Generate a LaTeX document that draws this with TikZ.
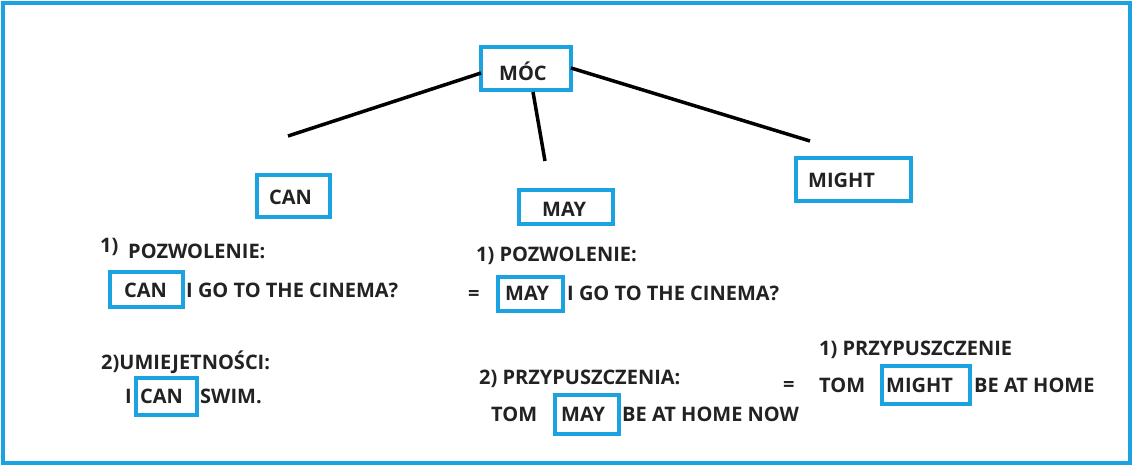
\documentclass[tikz,border=0pt]{standalone}
\usepackage{fontspec}
\setmainfont{Open Sans}[BoldFont={Open Sans Bold}]
\begin{document}
\begin{tikzpicture}[x=1pt,y=-1pt,
  bx/.style={draw=blu,line width=3.5pt},
  tx/.style={anchor=west,inner sep=0pt,font=\fontsize{20}{22}\selectfont\bfseries,text=txt},
  ln/.style={line width=3.5pt,black}]
\definecolor{blu}{HTML}{1AA3E0}
\definecolor{txt}{HTML}{222222}
\useasboundingbox (0,0) rectangle (1134,469);
\draw[blu,line width=4pt] (3,3) rectangle (1130,463);
% top
\draw[bx] (481,47) rectangle (571,90);
\node[tx] (moc) at (499,71) {MÓC};
\coordinate (mr) at (571,68); \coordinate (ml) at (481,73); \coordinate (mb) at (533,92);
\coordinate (e1) at (810,141); \coordinate (e2) at (288,136); \coordinate (e3) at (545,161);
\draw[ln] (mr) -- (e1); \draw[ln] (ml) -- (e2); \draw[ln] (mb) -- (e3);
\draw[bx] (257,175) rectangle (330,217); \node[tx] (can) at (269,197) {CAN};
\draw[bx] (519,190) rectangle (613,224); \node[tx] (may) at (542,209) {MAY};
\draw[bx] (796,158) rectangle (911,201); \node[tx] (might) at (808,180) {MIGHT};
% can column
\node[tx] (a1) at (100,247) {1)};
\node[tx] (a2) at (128,251) {POZWOLENIE:};
\draw[bx] (110,272) rectangle (183,307);
\node[tx] (a3) at (124,290) {CAN};
\node[tx] (a4) at (186,290) {I GO TO THE CINEMA?};
\node[tx] (b1) at (101,362) {2)UMIEJETNOŚCI:};
\node[tx] (b2) at (125,396) {I};
\draw[bx] (136,378) rectangle (197,415);
\node[tx] (b3) at (140,396) {CAN};
\node[tx] (b4) at (200,396) {SWIM.};
% may column
\node[tx] (c1) at (476,256) {1) POZWOLENIE:};
\node[tx] (c2) at (468,295) {=};
\draw[bx] (498,277) rectangle (563,311);
\node[tx] (c3) at (505,293) {MAY};
\node[tx] (c4) at (567,293) {I GO TO THE CINEMA?};
\node[tx] (d1) at (479,379) {2) PRZYPUSZCZENIA:};
\node[tx] (d2) at (491,414) {TOM};
\draw[bx] (555,395) rectangle (619,434);
\node[tx] (d3) at (561,414) {MAY};
\node[tx] (d4) at (622,414) {BE AT HOME NOW};
% might column
\node[tx] (f1) at (819,350) {1) PRZYPUSZCZENIE};
\node[tx] (f2) at (783,386) {=};
\node[tx] (f3) at (819,385) {TOM};
\draw[bx] (882,366) rectangle (970,404);
\node[tx] (f4) at (886,385) {MIGHT};
\node[tx] (f5) at (974,385) {BE AT HOME};
\end{tikzpicture}
\end{document}
